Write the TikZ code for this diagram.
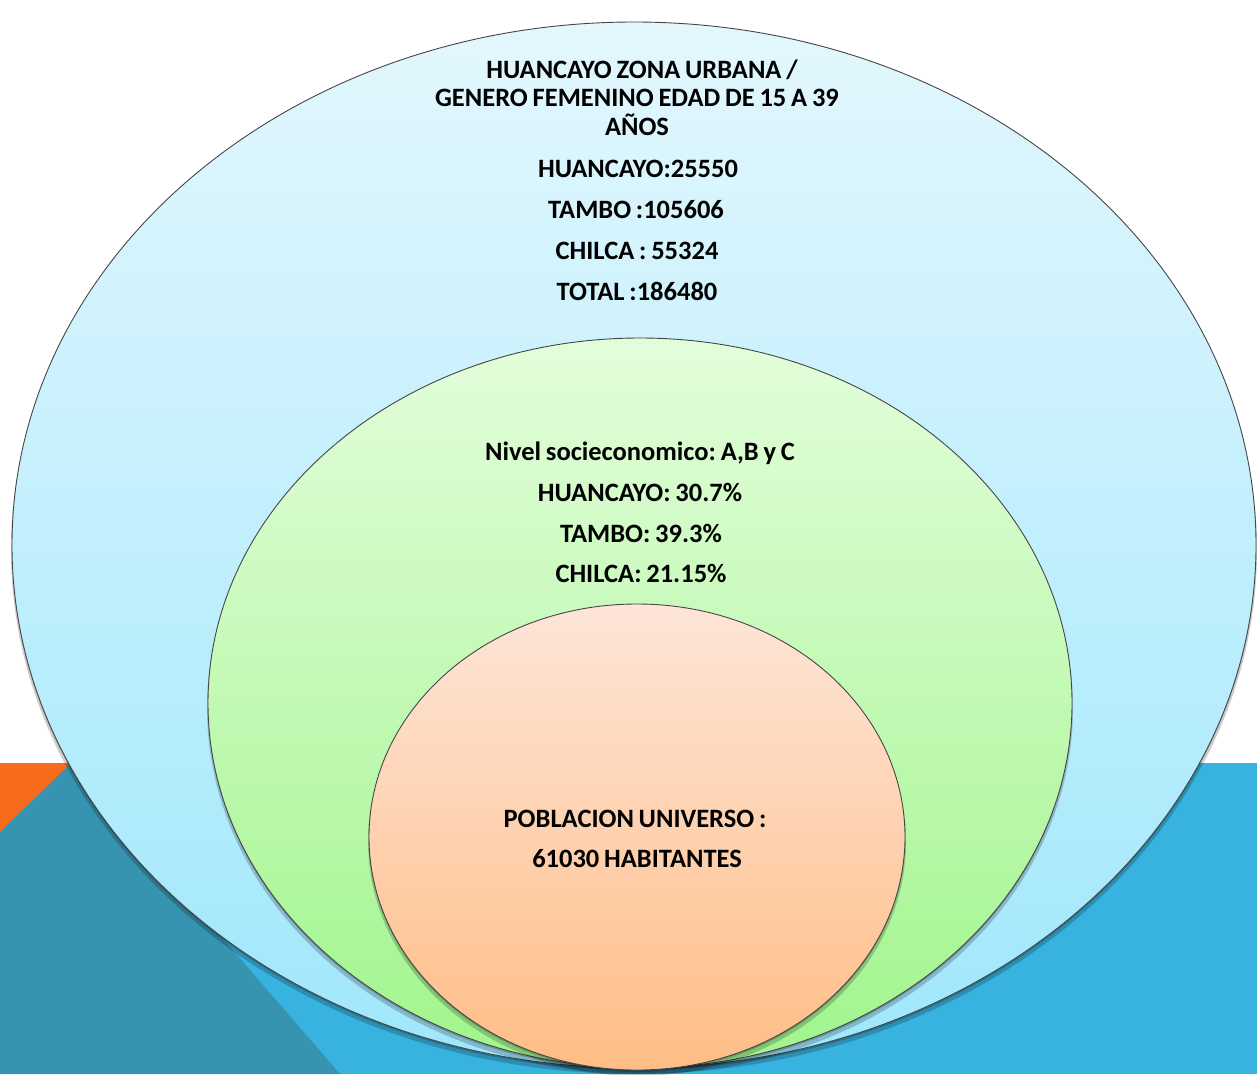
\documentclass[tikz,border=0pt]{standalone}
\usepackage{fontspec}
\setmainfont{Carlito}[WordSpace=0.8]
\frenchspacing
\definecolor{bandblue}{RGB}{56,178,222}
\definecolor{bandteal}{RGB}{55,148,176}
\definecolor{bandorange}{RGB}{247,107,28}
\definecolor{outtop}{RGB}{227,247,253}
\definecolor{outbot}{RGB}{159,231,252}
\definecolor{midtop}{RGB}{227,253,219}
\definecolor{midbot}{RGB}{160,245,140}
\definecolor{intop}{RGB}{253,229,216}
\definecolor{inbot}{RGB}{255,189,133}
\definecolor{rimline}{RGB}{70,70,70}
\begin{document}
\begin{tikzpicture}[x=1pt,y=-1pt,
  txt/.style={font=\fontsize{26.5}{30}\selectfont\bfseries\frenchspacing, inner sep=0pt, anchor=base},
  rim/.style={draw=rimline, line width=0.9pt},
  shade1/.style={fill=black, opacity=0.2}]
\useasboundingbox (0,0) rectangle (1257,1074);
\begin{scope}
\clip (0,0) rectangle (1257,1074);
\fill[bandblue] (0,763) rectangle (1257,1074);
\fill[bandorange] (0,763) -- (75,763) -- (0,832) -- cycle;
\fill[bandteal] (0,832) -- (71,763) -- (340,1074) -- (0,1074) -- cycle;
% outer ellipse
\fill[shade1] (634,550) ellipse [x radius=623, y radius=524];
\fill[shade1] (634,547) ellipse [x radius=622, y radius=523];
\path[rim, top color=outtop, bottom color=outbot] (634,545) ellipse [x radius=622, y radius=523];
% middle ellipse
\fill[shade1] (640,708) ellipse [x radius=433, y radius=366];
\fill[shade1] (640,705) ellipse [x radius=432, y radius=365];
\path[rim, top color=midtop, bottom color=midbot] (640,703) ellipse [x radius=432, y radius=365];
% inner ellipse
\fill[shade1] (637,842) ellipse [x radius=269, y radius=234];
\fill[shade1] (637,839) ellipse [x radius=268, y radius=233];
\path[rim, top color=intop, bottom color=inbot] (637,837) ellipse [x radius=268, y radius=233];
\end{scope}
% outer texts
\node[txt] (o1) at (642,78) {HUANCAYO ZONA URBANA /};
\node[txt] (o2) at (637,106) {GENERO FEMENINO EDAD DE 15 A 39};
\node[txt] (o3) at (637,135) {AÑOS};
\node[txt] (o4) at (638,177) {HUANCAYO:25550};
\node[txt] (o5) at (636,218) {TAMBO :105606};
\node[txt] (o6) at (637,259) {CHILCA : 55324};
\node[txt] (o7) at (637,300) {TOTAL :186480};
% middle texts
\node[txt] (m1) at (640,460) {Nivel socieconomico: A,B y C};
\node[txt] (m2) at (640,501) {HUANCAYO: 30.7\%};
\node[txt] (m3) at (641,542) {TAMBO: 39.3\%};
\node[txt] (m4) at (641,582) {CHILCA: 21.15\%};
% inner texts
\node[txt] (i1) at (635,827) {POBLACION UNIVERSO :};
\node[txt] (i2) at (637,867) {61030 HABITANTES};
\end{tikzpicture}
\end{document}
